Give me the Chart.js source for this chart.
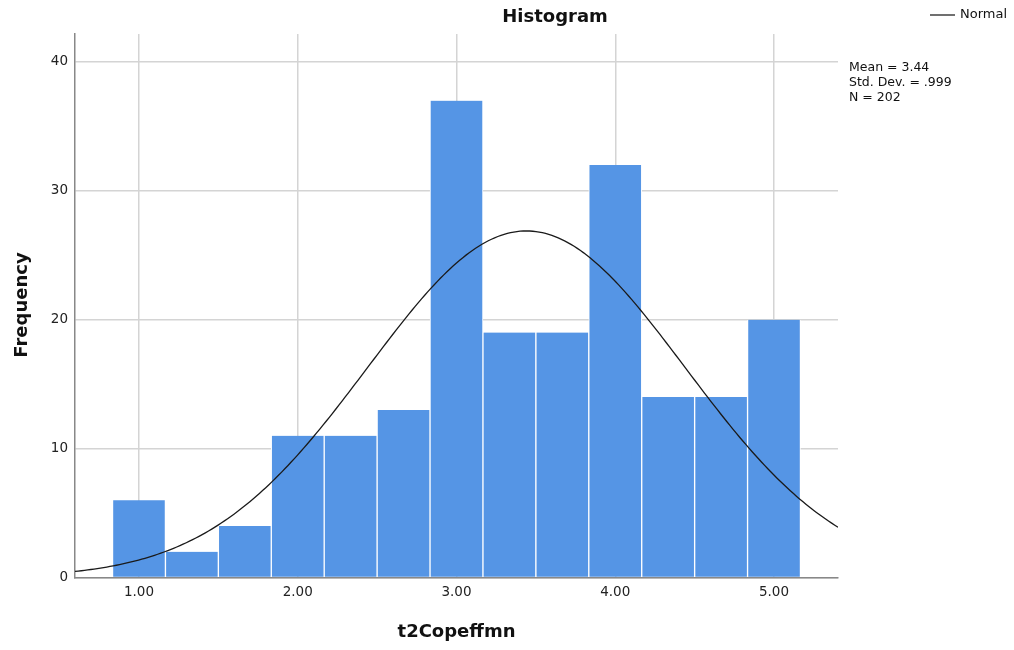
<!DOCTYPE html>
<html>
<head>
<meta charset="utf-8">
<title>Histogram</title>
<script src="https://cdn.jsdelivr.net/npm/chart.js@4/dist/chart.umd.min.js"></script>
<style>
  html, body { margin: 0; padding: 0; background: #fff; }
  #wrap { width: 1014px; height: 650px; position: relative; }
</style>
</head>
<body>
<div id="wrap"><canvas id="c" width="1014" height="650"></canvas></div>
<script>
// Bin midpoints of t2Copeffmn (bin width 1/3) and their frequencies
const binCenters = [1.0, 1.3333, 1.6667, 2.0, 2.3333, 2.6667, 3.0, 3.3333, 3.6667, 4.0, 4.3333, 4.6667, 5.0];
const frequencies = [6, 2, 4, 11, 11, 13, 37, 19, 19, 32, 14, 14, 20];
const xTickValues = [1, 2, 3, 4, 5];
const yTickValues = [0, 10, 20, 30, 40];

// Summary statistics printed beside the plot
const meanValue = 3.44;
const stdDev = 0.999;
const nCases = 202;
const binWidth = 1 / 3;
const statLines = ['Mean = 3.44', 'Std. Dev. = .999', 'N = 202'];

// Axis extents
const xMin = 0.597, xMax = 5.403;
const yMax = 42.17;

// Normal curve scaled to counts per bin
const normalCurve = [];
for (let i = 0; i <= 240; i++) {
  const x = xMin + (xMax - xMin) * i / 240;
  const z = (x - meanValue) / stdDev;
  const y = nCases * binWidth * Math.exp(-0.5 * z * z) / (stdDev * Math.sqrt(2 * Math.PI));
  normalCurve.push({ x: x, y: y });
}

const FONT = '"DejaVu Sans", "Liberation Sans", sans-serif';

const decorations = {
  id: 'decorations',
  afterDraw(chart) {
    const ctx = chart.ctx;
    const area = chart.chartArea;
    ctx.save();
    // title
    ctx.fillStyle = '#111';
    ctx.font = 'bold 18px ' + FONT;
    ctx.textAlign = 'center';
    ctx.textBaseline = 'middle';
    ctx.fillText('Histogram', 555, 17);
    // x axis title
    ctx.fillText('t2Copeffmn', (area.left + area.right) / 2, 632);
    // y axis title
    ctx.save();
    ctx.translate(22, 305);
    ctx.rotate(-Math.PI / 2);
    ctx.fillText('Frequency', 0, 0);
    ctx.restore();
    // legend
    ctx.strokeStyle = '#111';
    ctx.lineWidth = 1.2;
    ctx.beginPath();
    ctx.moveTo(930, 15);
    ctx.lineTo(955, 15);
    ctx.stroke();
    ctx.font = '13px ' + FONT;
    ctx.textAlign = 'left';
    ctx.fillStyle = '#111';
    ctx.fillText('Normal', 960, 15);
    // statistics
    ctx.font = '12.5px ' + FONT;
    statLines.forEach((t, i) => ctx.fillText(t, 849, 68 + i * 15));
    ctx.restore();
  }
};

new Chart(document.getElementById('c'), {
  data: {
    datasets: [
      {
        type: 'line',
        label: 'Normal',
        data: normalCurve,
        borderColor: '#1a1a1a',
        borderWidth: 1.3,
        pointRadius: 0,
        fill: false,
        tension: 0,
        order: 0
      },
      {
        type: 'bar',
        label: 'Frequency',
        data: binCenters.map((x, i) => ({ x: x, y: frequencies[i] })),
        backgroundColor: '#5595e5',
        borderColor: '#ffffff',
        borderWidth: { left: 1, right: 1, top: 0, bottom: 0 },
        borderSkipped: false,
        barPercentage: 1.0,
        categoryPercentage: 1.0,
        order: 1
      }
    ]
  },
  options: {
    responsive: false,
    animation: false,
    layout: { padding: { left: 0, right: 176, top: 34, bottom: 0 } },
    plugins: {
      legend: { display: false },
      tooltip: { enabled: false },
      title: { display: false }
    },
    scales: {
      x: {
        type: 'linear',
        min: xMin,
        max: xMax,
        offset: false,
        afterBuildTicks(scale) { scale.ticks = xTickValues.map(v => ({ value: v })); },
        afterFit(scale) { scale.height = 650 - 34 - 543.5; },
        ticks: {
          font: { family: FONT, size: 13.5 },
          color: '#222',
          padding: 7,
          maxRotation: 0,
          callback: v => Number(v).toFixed(2)
        },
        grid: { color: '#d4d4d4', lineWidth: 1.5, drawTicks: false, offset: false },
        border: { color: '#888', width: 1.5 }
      },
      y: {
        type: 'linear',
        min: 0,
        max: yMax,
        afterBuildTicks(scale) { scale.ticks = yTickValues.map(v => ({ value: v })); },
        afterFit(scale) { scale.width = 75; },
        ticks: {
          font: { family: FONT, size: 13.5 },
          color: '#222',
          padding: 7
        },
        grid: { color: '#d4d4d4', lineWidth: 1.5, drawTicks: false },
        border: { color: '#888', width: 1.5 }
      }
    }
  },
  plugins: [decorations]
});
</script>
</body>
</html>
